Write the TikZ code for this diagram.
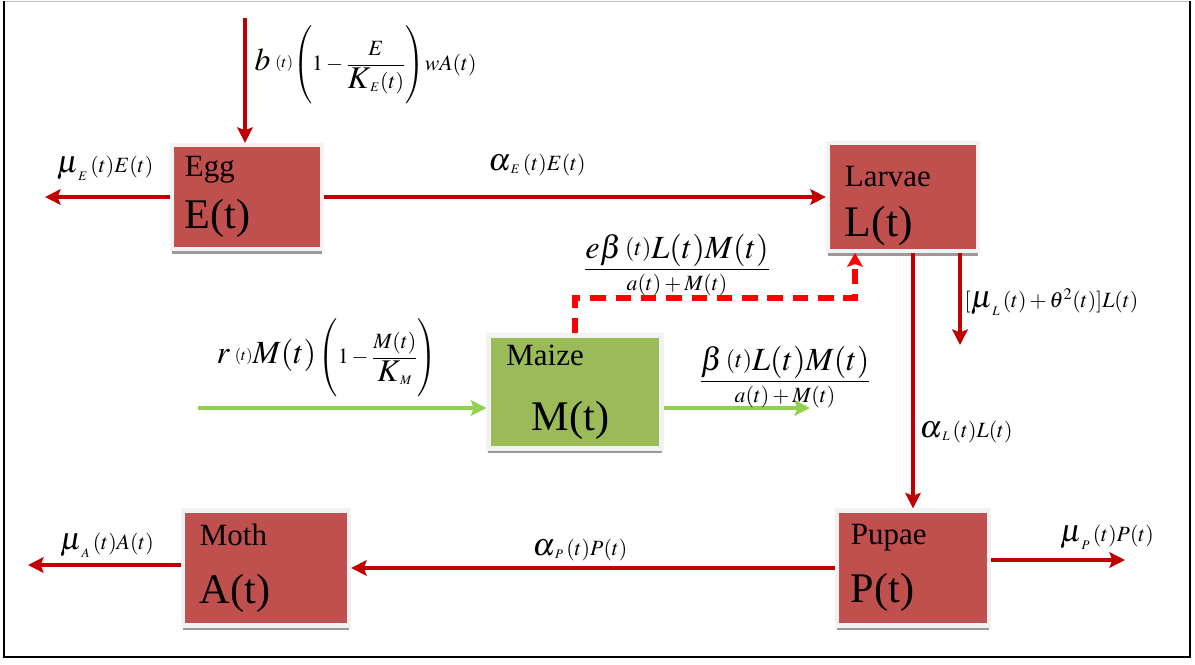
\documentclass[tikz,border=0pt]{standalone}
\usepackage{amsmath}
\usepackage{mathptmx}
\usepackage[no-math]{fontspec}
\setmainfont{Liberation Serif}
\usepackage{graphicx}
\usetikzlibrary{arrows.meta,shadows}

\definecolor{stagered}{HTML}{C0504D}
\definecolor{maizegreen}{HTML}{9BBB59}
\definecolor{flowred}{HTML}{C00000}
\definecolor{sproutgreen}{HTML}{92D050}
\definecolor{feedred}{HTML}{FF0000}

\newcommand{\stagename}[2]{{\fontsize{22}{26}\selectfont #1}\\#2}
\newcommand{\bigsym}[1]{\scalebox{1.45}{$#1$}}
\newcommand{\bigpart}[1]{\mbox{\fontsize{23}{26}\selectfont$#1$}}
\newcommand{\smallt}{\raisebox{2pt}{$\scriptstyle(t)$}}

\tikzset{
  stage/.style={fill=stagered, draw=black!5, line width=3pt, align=left, inner xsep=0pt,
    font=\fontsize{30}{37}\selectfont,
    drop shadow={shadow xshift=0pt, shadow yshift=-3.5pt, fill=black!40, opacity=1}},
  flow/.style={draw=flowred, line width=3.5pt, -{Stealth[length=11pt,width=11pt,inset=2pt]}},
  sprout/.style={draw=sproutgreen, line width=3.5pt, -{Stealth[length=11pt,width=11pt,inset=2pt]}},
  feed/.style={draw=feedred, line width=4pt, dash pattern=on 11pt off 7pt, -{Stealth[length=10pt,width=11pt,inset=2pt]}},
  rate/.style={font=\fontsize{15.5}{18}\selectfont, inner sep=1pt},
}

\begin{document}
\begin{tikzpicture}[x=0.025cm, y=-0.025cm]
    \useasboundingbox (0,0) rectangle (1195,664);
    % frame
    \draw[black!25, line width=1pt] (4,1.5) -- (1190,1.5);
    \draw[line width=1.2pt] (4,1.5) |- (1190,657) -- (1190,1.5);

    % stages
    \node[stage, minimum width=3.75cm, minimum height=2.6cm, text width=3.1cm] (egg) at (247,197) {\stagename{Egg}{E(t)}};
    \node[stage, font=\fontsize{31}{36}\selectfont, minimum width=3.75cm, minimum height=2.475cm, text width=2.9cm] (larvae) at (903,197)
        {\stagename{\rule{0pt}{27pt}Larvae}{L(t)}};
    \node[stage, fill=maizegreen, minimum width=4.325cm, minimum height=2.825cm, text width=3.425cm] (maize) at (575,392)
        {{\fontsize{22}{26}\selectfont Maize}\\[9pt]\hspace*{18pt}M(t)};
    \node[stage, font=\fontsize{30}{41}\selectfont, minimum width=4.15cm, minimum height=2.875cm, text width=3.3cm] (moth) at (266,568) {\stagename{Moth}{A(t)}};
    \node[stage, font=\fontsize{30}{41}\selectfont, minimum width=3.8cm, minimum height=2.875cm, text width=3.1cm] (pupae) at (913,568) {\stagename{Pupae}{P(t)}};

    % free ends
    \coordinate (eggsrc) at (245,18);
    \coordinate (eggsink) at (45,197);
    \coordinate (larvaesink) at (960,345);
    \coordinate (maizesrc) at (198,408);
    \coordinate (maizesink) at (810,408);
    \coordinate (feedbend) at (855,298);
    \coordinate (mothsink) at (28,565);
    \coordinate (pupaesink) at (1125,560);

    % flows
    \draw[flow] (eggsrc) -- (eggsrc |- egg.north);
    \draw[flow] (egg.west) -- (eggsink);
    \draw[flow] (egg.east) -- (larvae.west);
    \draw[flow] (larvae.south -| pupae.north) -- (pupae.north);
    \draw[flow] (larvae.south -| larvaesink) -- (larvaesink);
    \draw[flow] (pupae.west) -- (moth.east);
    \draw[flow] (moth.west |- mothsink) -- (mothsink);
    \draw[flow] (pupae.east |- pupaesink) -- (pupaesink);
    \draw[sprout] (maizesrc) -- (maizesrc -| maize.west);
    \draw[sprout] (maize.east |- maizesink) -- (maizesink);
    \draw[feed] (maize.north) |- (feedbend) -- (feedbend |- larvae.south);

    % rates
    \node[rate, anchor=west] (birth) at (253,65)
        {$\bigsym{b}\;\smallt\!\left(\rule[-24pt]{0pt}{50pt}1-\dfrac{E}{\bigsym{K}_{\scriptscriptstyle E}(t)}\right)\!wA(t)$};
    \node[rate] (eggloss) at (105,168) {$\bigsym{\mu}_{\scriptscriptstyle E}\,(t)E(t)$};
    \node[rate] (eggrate) at (537,165) {$\bigsym{\alpha}_{\scriptscriptstyle E}\,(t)E(t)$};
    \node[rate] (feedrate) at (677,265)
        {$\dfrac{\bigpart{e\beta\,\smallt L(t)M(t)}}{a(t)+M(t)}$};
    \node[rate, anchor=west] (larvaeloss) at (963,302) {$[\bigsym{\mu}_{\scriptscriptstyle L}\,(t)+\theta^{2}(t)]L(t)$};
    \node[rate] (maizeloss) at (785,377)
        {$\dfrac{\bigpart{\beta\,\smallt L(t)M(t)}}{a(t)+M(t)}$};
    \node[rate, anchor=west] (growth) at (215,358)
        {$\bigpart{r}\;\smallt\bigpart{M(t)}\left(\rule[-24pt]{0pt}{48pt}1-\dfrac{M(t)}{\bigsym{K}_{\scriptscriptstyle M}}\right)$};
    \node[rate, anchor=west] (larvaerate) at (918,432) {$\bigsym{\alpha}_{\scriptscriptstyle L}\,(t)L(t)$};
    \node[rate] (puparate) at (580,550) {$\bigsym{\alpha}_{\scriptscriptstyle P}\,(t)P(t)$};
    \node[rate] (mothloss) at (107,545) {$\bigsym{\mu}_{\scriptscriptstyle A}\,(t)A(t)$};
    \node[rate] (pupaeloss) at (1107,537) {$\bigsym{\mu}_{\scriptscriptstyle P}\,(t)P(t)$};
\end{tikzpicture}
\end{document}
